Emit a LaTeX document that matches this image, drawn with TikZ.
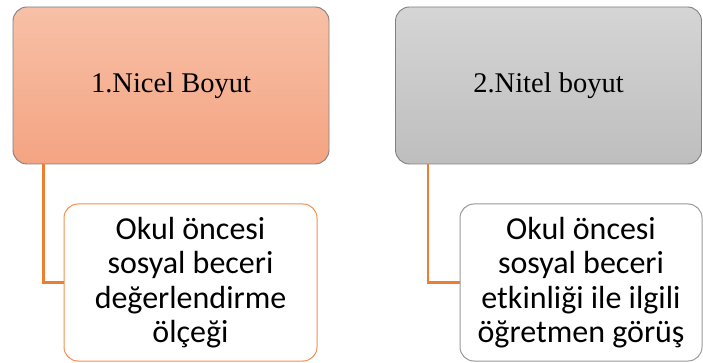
\documentclass[tikz,border=0pt]{standalone}
\usepackage{fontspec}
\setmainfont{Liberation Serif}
\newfontfamily\govdefont{Carlito}
\usetikzlibrary{calc}
\definecolor{turuncu}{HTML}{ED7D31}
\definecolor{acikturuncu}{HTML}{F7C0A7}
\definecolor{koyuturuncu}{HTML}{F4A482}
\definecolor{acikgri}{HTML}{D5D5D5}
\definecolor{koyugri}{HTML}{BEBEBE}
\begin{document}
\begin{tikzpicture}[x=1pt, y=-1pt,
  baslik/.style={draw=black!50, line width=.9pt, rounded corners=14pt, minimum height=157pt, font=\fontsize{28.5}{32}\selectfont},
  icerik/.style={draw, line width=1pt, fill=white, rounded corners=14pt, minimum height=157pt, align=center, inner sep=0pt, font=\govdefont\fontsize{32}{34.5}\selectfont},
  hat/.style={turuncu, line width=2.4pt}]
\useasboundingbox (0,0) rectangle (703,363);

\node [baslik, minimum width=316pt, top color=acikturuncu, bottom color=koyuturuncu] (nicel) at (171,85.5) {1.Nicel Boyut};
\node [baslik, minimum width=306pt, top color=acikgri, bottom color=koyugri] (nitel) at (548.5,85.5) {2.Nitel boyut};

\node [icerik, draw=turuncu!85, minimum width=253pt] (olcek) at (190.5,282.5) {Okul öncesi\\sosyal beceri\\değerlendirme\\ölçeği};
\node [icerik, draw=black!40, minimum width=242pt] (gorus) at (581,282.5) {Okul öncesi\\sosyal beceri\\etkinliği ile ilgili\\öğretmen görüş};

\draw [hat] ($(nicel.south west)+(31,0)$) |- (olcek.west);
\draw [hat] ($(nitel.south west)+(33,0)$) |- (gorus.west);
\end{tikzpicture}
\end{document}
